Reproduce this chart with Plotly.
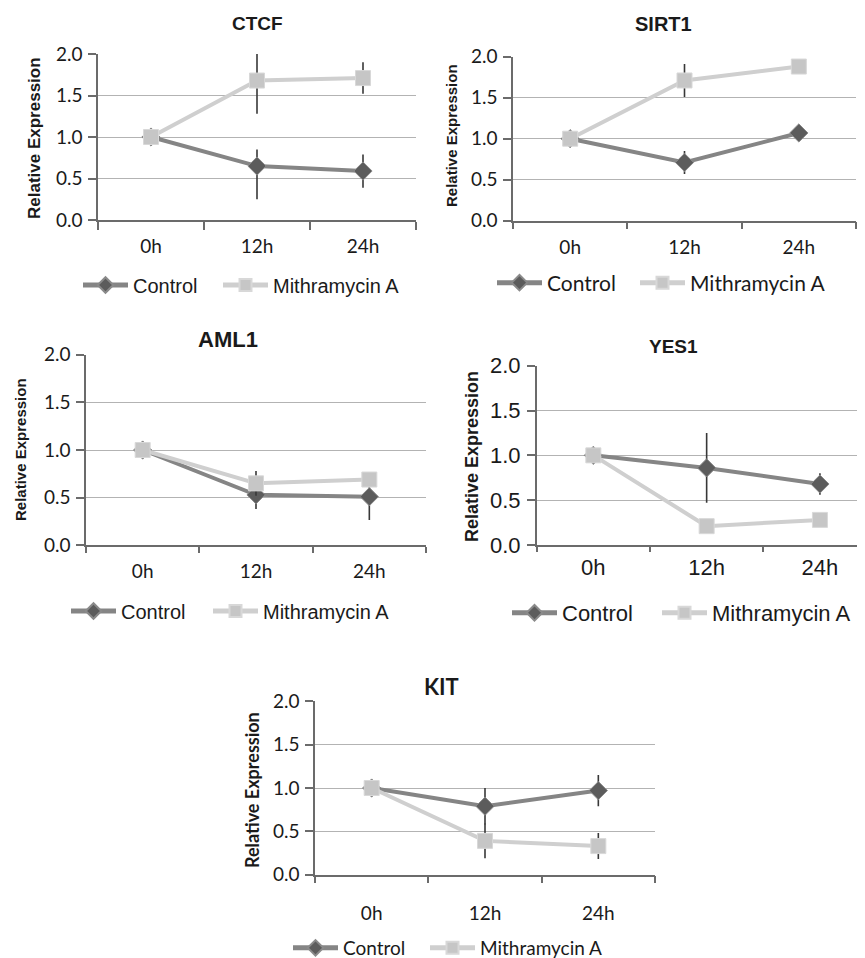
import plotly.graph_objects as go

# ---------------- data ----------------
times = ["0h", "12h", "24h"]
series_names = ["Control", "Mithramycin A"]
y_ticks = [0.0, 0.5, 1.0, 1.5, 2.0]
y_tick_labels = ["0.0", "0.5", "1.0", "1.5", "2.0"]

ctcf_control = [1.00, 0.65, 0.59]
ctcf_control_err_up = [0.00, 0.20, 0.20]
ctcf_control_err_down = [0.00, 0.40, 0.20]
ctcf_mith = [1.00, 1.68, 1.71]
ctcf_mith_err = [0.00, 0.40, 0.19]

sirt1_control = [1.00, 0.71, 1.07]
sirt1_control_err = [0.00, 0.14, 0.03]
sirt1_mith = [1.00, 1.71, 1.88]
sirt1_mith_err = [0.00, 0.20, 0.03]

aml1_control = [1.00, 0.53, 0.51]
aml1_control_err = [0.00, 0.15, 0.245]
aml1_mith = [1.00, 0.65, 0.69]
aml1_mith_err = [0.00, 0.13, 0.03]

yes1_control = [1.00, 0.86, 0.68]
yes1_control_err = [0.00, 0.39, 0.12]
yes1_mith = [1.00, 0.21, 0.28]
yes1_mith_err = [0.00, 0.03, 0.03]

kit_control = [1.00, 0.79, 0.97]
kit_control_err = [0.00, 0.21, 0.18]
kit_mith = [1.00, 0.39, 0.33]
kit_mith_err = [0.00, 0.20, 0.15]

# ---------------- layout helpers ----------------
PAGE_W, PAGE_H = 865, 958
OFF = 8  # default body margin of the html page
W, H = PAGE_W - OFF, PAGE_H - OFF
ARIAL = "Liberation Sans, Arial, sans-serif"
CALIBRI = "Lato, Carlito, Calibri, sans-serif"

CTRL_LINE = "#858585"
CTRL_MARK = "#5c5c5c"
MITH_LINE = "#cfcfcf"
MITH_MARK = "#c6c6c6"
ERR = "#383838"
AXIS = "#6b6b6b"
GRID = "#b3b3b3"


def px(x):
    return (x - OFF) / W


def py(y):
    return 1 - (y - OFF) / H


panels = [
    dict(title="CTCF", ctrl=ctcf_control, ctrl_up=ctcf_control_err_up, ctrl_dn=ctcf_control_err_down,
         mith=ctcf_mith, mith_up=ctcf_mith_err, mith_dn=ctcf_mith_err,
         box=(98, 416, 54, 220), xr=None,
         tfont=(ARIAL, 19), tpos=(257, 24),
         yfont=(ARIAL, 17), ypos=(35, 138),
         tickfont=(CALIBRI, 19), xstand=8, xticklen=8,
         lfont=(ARIAL, 20), lpos=((83, 223), 285)),
    dict(title="SIRT1", ctrl=sirt1_control, ctrl_up=sirt1_control_err, ctrl_dn=sirt1_control_err,
         mith=sirt1_mith, mith_up=sirt1_mith_err, mith_dn=sirt1_mith_err,
         box=(513, 856, 56.7, 220.7), xr=None,
         tfont=(ARIAL, 20), tpos=(663, 24),
         yfont=(ARIAL, 15), ypos=(451, 136),
         tickfont=(CALIBRI, 19), xstand=9, xticklen=7,
         lfont=(CALIBRI, 21), lpos=((497, 640), 283)),
    dict(title="AML1", ctrl=aml1_control, ctrl_up=aml1_control_err, ctrl_dn=aml1_control_err,
         mith=aml1_mith, mith_up=aml1_mith_err, mith_dn=aml1_mith_err,
         box=(86, 426, 354.7, 545.3), xr=None,
         tfont=(ARIAL, 22), tpos=(228, 339),
         yfont=(ARIAL, 15), ypos=(20, 450),
         tickfont=(CALIBRI, 19), xstand=8, xticklen=6,
         lfont=(ARIAL, 20), lpos=((71, 213), 611)),
    dict(title="YES1", ctrl=yes1_control, ctrl_up=yes1_control_err, ctrl_dn=yes1_control_err,
         mith=yes1_mith, mith_up=yes1_mith_err, mith_dn=yes1_mith_err,
         box=(536.7, 865, 365.7, 545), xr=(-0.5, -0.5 + (865 - 536.7) / 113.3),
         tfont=(ARIAL, 19), tpos=(673, 347),
         yfont=(ARIAL, 18), ypos=(472, 457),
         tickfont=(ARIAL, 22), xstand=2, xticklen=5,
         lfont=(ARIAL, 22), lpos=((512, 662), 613)),
    dict(title="KIT", ctrl=kit_control, ctrl_up=kit_control_err, ctrl_dn=kit_control_err,
         mith=kit_mith, mith_up=kit_mith_err, mith_dn=kit_mith_err,
         box=(315, 655, 701.3, 874.7), xr=None,
         tfont=(CALIBRI, 22), tpos=(441, 686),
         yfont=(CALIBRI, 18), ypos=(252, 790),
         tickfont=(CALIBRI, 19), xstand=21, xticklen=7,
         lfont=(CALIBRI, 19), lpos=((293, 430), 948)),
]

fig = go.Figure()
annotations = []
layout = dict(
    width=W, height=H, margin=dict(l=0, r=0, t=0, b=0, autoexpand=False),
    paper_bgcolor="white", plot_bgcolor="white", showlegend=True,
)

LEG_OFF = 5  # distance from legend x to start of its line sample

for i, p in enumerate(panels):
    n = i + 1
    sfx = "" if n == 1 else str(n)
    xa, ya = "x" + sfx, "y" + sfx
    leg_c = "legend" + ("" if n == 1 else str(2 * n - 1))
    leg_m = "legend" + str(2 * n)
    x0, x1, yt, yb = p["box"]

    fig.add_trace(go.Scatter(
        x=times, y=p["ctrl"], name=series_names[0], xaxis=xa, yaxis=ya, legend=leg_c,
        mode="lines+markers", showlegend=True,
        line=dict(color=CTRL_LINE, width=4),
        marker=dict(symbol="diamond", size=14, color=CTRL_MARK, line=dict(color="#8a8a8a", width=1)),
        error_y=dict(type="data", symmetric=False, array=p["ctrl_up"], arrayminus=p["ctrl_dn"],
                     color=ERR, thickness=1.6, width=0),
        cliponaxis=False,
    ))
    fig.add_trace(go.Scatter(
        x=times, y=p["mith"], name=series_names[1], xaxis=xa, yaxis=ya, legend=leg_m,
        mode="lines+markers", showlegend=True,
        line=dict(color=MITH_LINE, width=4),
        marker=dict(symbol="square", size=15, color=MITH_MARK, line=dict(color="#d8d8d8", width=1)),
        error_y=dict(type="data", symmetric=False, array=p["mith_up"], arrayminus=p["mith_dn"],
                     color=ERR, thickness=1.6, width=0),
        cliponaxis=False,
    ))

    tf, ts = p["tickfont"]
    layout["xaxis" + sfx] = dict(
        domain=[max(0, px(x0)), min(1, px(x1))], anchor=ya, type="category",
        categoryorder="array", categoryarray=times,
        range=list(p["xr"]) if p["xr"] else [-0.5, 2.5],
        showline=True, linecolor=AXIS, linewidth=1.5,
        ticks="outside", tickson="boundaries", ticklen=p["xticklen"], tickcolor=AXIS, tickwidth=1.5,
        ticklabelstandoff=p["xstand"],
        showgrid=False, zeroline=False,
        tickfont=dict(family=tf, size=ts, color="#1a1a1a"),
    )
    layout["yaxis" + sfx] = dict(
        domain=[py(yb), py(yt)], anchor=xa,
        range=[0, 2], tickvals=y_ticks, ticktext=y_tick_labels,
        showline=True, linecolor=AXIS, linewidth=1.5,
        ticks="outside", ticklen=8, tickcolor=AXIS, tickwidth=1.5,
        showgrid=True, gridcolor=GRID, gridwidth=1, zeroline=False,
        tickfont=dict(family=tf, size=ts, color="#1a1a1a"),
        ticklabelstandoff=2,
    )

    lf, ls = p["lfont"]
    (lxc, lxm), ly = p["lpos"]
    for leg, lx in ((leg_c, lxc), (leg_m, lxm)):
        layout[leg] = dict(
            orientation="h", xref="paper", yref="paper",
            x=px(lx - LEG_OFF), y=py(ly), xanchor="left", yanchor="middle",
            font=dict(family=lf, size=ls, color="#1a1a1a"),
            bgcolor="rgba(0,0,0,0)", borderwidth=0, visible=True,
            itemwidth=45, itemsizing="constant",
            itemclick=False, itemdoubleclick=False,
        )

    f, s = p["tfont"]
    annotations.append(dict(
        text="<b>%s</b>" % p["title"], xref="paper", yref="paper",
        x=px(p["tpos"][0]), y=py(p["tpos"][1]), xanchor="center", yanchor="middle",
        showarrow=False, font=dict(family=f, size=s, color="#1a1a1a"),
    ))
    f, s = p["yfont"]
    annotations.append(dict(
        text="<b>Relative Expression</b>", xref="paper", yref="paper", textangle=-90,
        x=px(p["ypos"][0]), y=py(p["ypos"][1]), xanchor="center", yanchor="middle",
        showarrow=False, font=dict(family=f, size=s, color="#1a1a1a"),
    ))

layout["annotations"] = annotations
fig.update_layout(**layout)
fig.write_html("out.html")
